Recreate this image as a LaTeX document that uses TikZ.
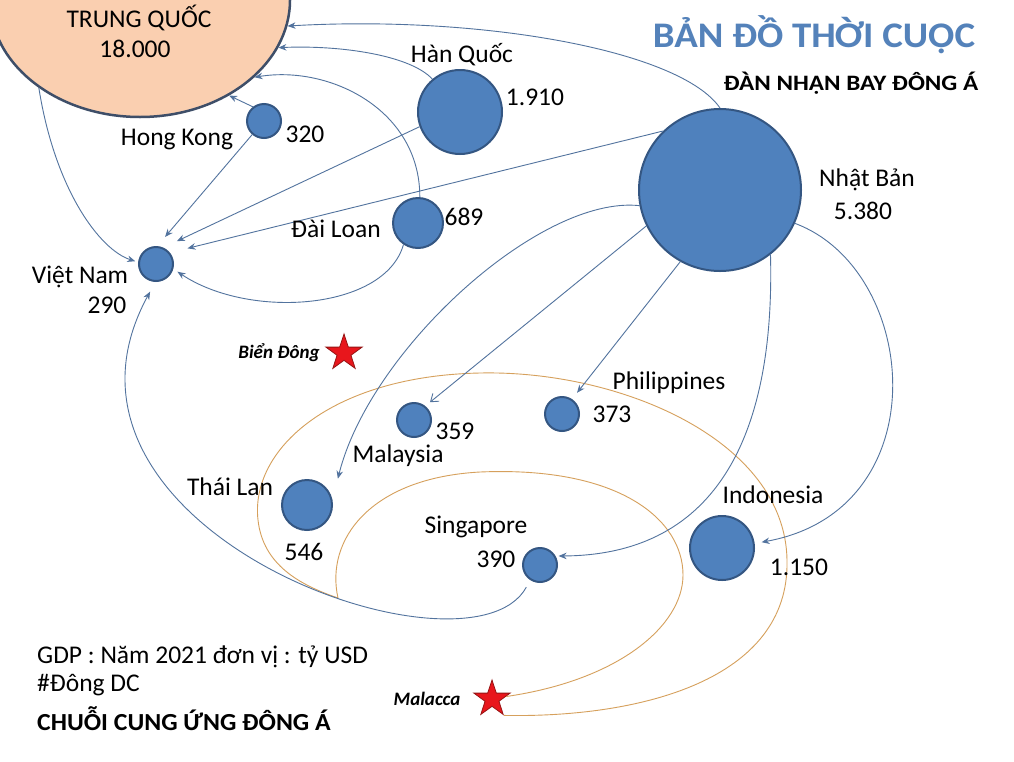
\documentclass[tikz,border=0pt]{standalone}
\usepackage{fontspec}
\setmainfont{Carlito}
\usetikzlibrary{shapes.geometric,arrows.meta}
\definecolor{ln}{RGB}{82,115,158}
\definecolor{bub}{RGB}{79,129,189}
\definecolor{bubd}{RGB}{52,86,130}
\definecolor{peach}{RGB}{250,207,176}
\definecolor{peachd}{RGB}{62,78,104}
\definecolor{ttl}{RGB}{84,130,186}
\definecolor{orng}{RGB}{214,160,92}
\definecolor{strr}{RGB}{232,22,28}
\definecolor{strd}{RGB}{150,20,20}
\newcommand{\lblf}{\fontsize{25.5}{30}\selectfont}
\newcommand{\smbi}{\bfseries\itshape\fontsize{19}{22}\selectfont}
\begin{document}
\begin{tikzpicture}[x=1pt,y=-1pt,
  ctry/.style={circle,fill=bub,draw=bubd,line width=2pt,inner sep=0pt,minimum size=#1},
  lbl/.style={anchor=base,inner sep=0pt,font=\lblf},
  lblw/.style={anchor=base west,inner sep=0pt,font=\lblf},
  conn/.style={draw=ln,line width=0.9pt,-{Stealth[length=8pt,width=6.5pt]}},
  orangeline/.style={draw=orng,line width=0.9pt},
  redstar/.style={star,star points=5,star point ratio=2.6,fill=strr,draw=strd,line width=0.8pt,minimum size=38pt,inner sep=0pt}]
\useasboundingbox (0,0) rectangle (1014,761);
\clip (0,0) rectangle (1014,761);
\fill[white] (0,0) rectangle (1014,761);

% countries
\node[ellipse,fill=peach,draw=peachd,line width=2.5pt,minimum width=300pt,minimum height=234pt,inner sep=0pt] (cn) at (140,0) {};
\node[ctry=84pt] (kr) at (460,112) {};
\node[ctry=34pt] (hk) at (264,121) {};
\node[ctry=50pt] (tw) at (418,223) {};
\node[ctry=162pt] (jp) at (720,190) {};
\node[ctry=34pt] (vn) at (156,264) {};
\node[ctry=34pt] (my) at (414,420) {};
\node[ctry=34pt] (ph) at (562,414) {};
\node[ctry=50pt] (th) at (307,505) {};
\node[ctry=34pt] (sg) at (540,565) {};
\node[ctry=64pt] (id) at (722,548) {};

% stars
\node[redstar] (bd) at (344,353) {};
\node[redstar] (mal) at (492,699) {};

% orange crescent
\coordinate (cusp) at (338,598);
\draw[orangeline] (mal.-54) .. controls (640,718) and (790,680) .. (787,560)
  .. controls (785,440) and (620,370) .. (480,373)
  .. controls (330,376) and (250,450) .. (258,520)
  .. controls (263,565) and (300,585) .. (cusp)
  .. controls (325,540) and (370,478) .. (480,472)
  .. controls (620,466) and (683,520) .. (683,575)
  .. controls (683,625) and (620,680) .. (mal.10);

% connectors to China
\draw[conn] (jp.90) .. controls (680,50) and (480,15) .. (cn.-10);
\draw[conn] (kr.130) .. controls (410,55) and (340,45) .. (cn.-19);
\draw[conn] (tw.86) .. controls (420,110) and (330,65) .. (cn.-34);
\draw[conn] (hk.128) -- (cn.-47);

% connectors to Viet Nam
\draw[conn,shorten >=3pt] (cn.-139) .. controls (55,190) and (100,250) .. (vn.174);
\draw[conn,shorten >=12pt] (hk.229) -- (vn.86);
\draw[conn,shorten >=15pt] (kr.200) -- (vn.66);
\draw[conn,shorten >=18pt] (jp.134) -- (vn.39);
\draw[conn,shorten >=5pt] (tw.236) .. controls (385,310) and (250,320) .. (vn.-16);
\draw[conn,shorten <=8pt,shorten >=11pt] (sg.-123) .. controls (470,690) and (20,530) .. (vn.-92);

% connectors from Japan to the south
\draw[conn,shorten >=22pt] (jp.191) .. controls (540,195) and (370,350) .. (th.11);
\draw[draw=ln,line width=0.9pt,-{Straight Barb[length=7pt,width=10pt]},shorten >=6pt] (jp.206) -- (my.51);
\draw[conn,shorten >=8pt] (jp.241) -- (ph.56);
\draw[conn,shorten >=3pt] (jp.-52) .. controls (775,430) and (720,555) .. (sg.30);
\draw[conn,shorten >=7pt] (jp.-24) .. controls (920,270) and (940,510) .. (id.8);

% labels
\node[lbl] (cnname) at (139,27) {TRUNG QUỐC};
\node[lbl] (cnval) at (135,57) {18.000};
\node[lbl] (krname) at (462,62) {Hàn Quốc};
\node[lbl] (krval) at (535,105) {1.910};
\node[lbl] (hkval) at (305,142) {320};
\node[lbl] (hkname) at (177,145) {Hong Kong};
\node[lbl] (twname) at (336,237) {Đài Loan};
\node[lbl] (twval) at (464,225) {689};
\node[lbl] (jpname) at (867,186) {Nhật Bản};
\node[lbl] (jpval) at (863,219) {5.380};
\node[lbl] (vnname) at (80,283) {Việt Nam};
\node[lbl] (vnval) at (107,313) {290};
\node[anchor=base,inner sep=0pt,font=\smbi] (bdname) at (279,358) {Biển Đông};
\node[lbl] (phname) at (669,389) {Philippines};
\node[lbl] (phval) at (612,422) {373};
\node[lbl] (myval) at (455,439) {359};
\node[lbl] (myname) at (398,462) {Malaysia};
\node[lbl] (thname) at (230,495) {Thái Lan};
\node[lbl] (thval) at (304,560) {546};
\node[lbl] (sgname) at (476,533) {Singapore};
\node[lbl] (sgval) at (496,567) {390};
\node[lbl] (idname) at (773,503) {Indonesia};
\node[lbl] (idval) at (799,575) {1.150};
\node[anchor=base,inner sep=0pt,font=\smbi] (malname) at (427,705) {Malacca};

\node[anchor=base,inner sep=0pt,text=ttl,font=\bfseries\fontsize{36}{40}\selectfont] (title) at (814,47) {\scalebox{1.08}[1]{BẢN ĐỒ THỜI CUỘC}};
\node[anchor=base,inner sep=0pt,font=\bfseries\fontsize{22}{26}\selectfont] (subtitle) at (851,90) {\scalebox{1.14}[1]{ĐÀN NHẠN BAY ĐÔNG Á}};
\node[lblw] (gdp) at (37,663) {GDP : Năm 2021 đơn vị : tỷ USD};
\node[lblw] (tag) at (37,691) {\#Đông DC};
\node[lblw,font=\bfseries\fontsize{24.5}{28}\selectfont] (chuoi) at (37,730) {\scalebox{1.05}[1]{CHUỖI CUNG ỨNG ĐÔNG Á}};
\end{tikzpicture}
\end{document}
